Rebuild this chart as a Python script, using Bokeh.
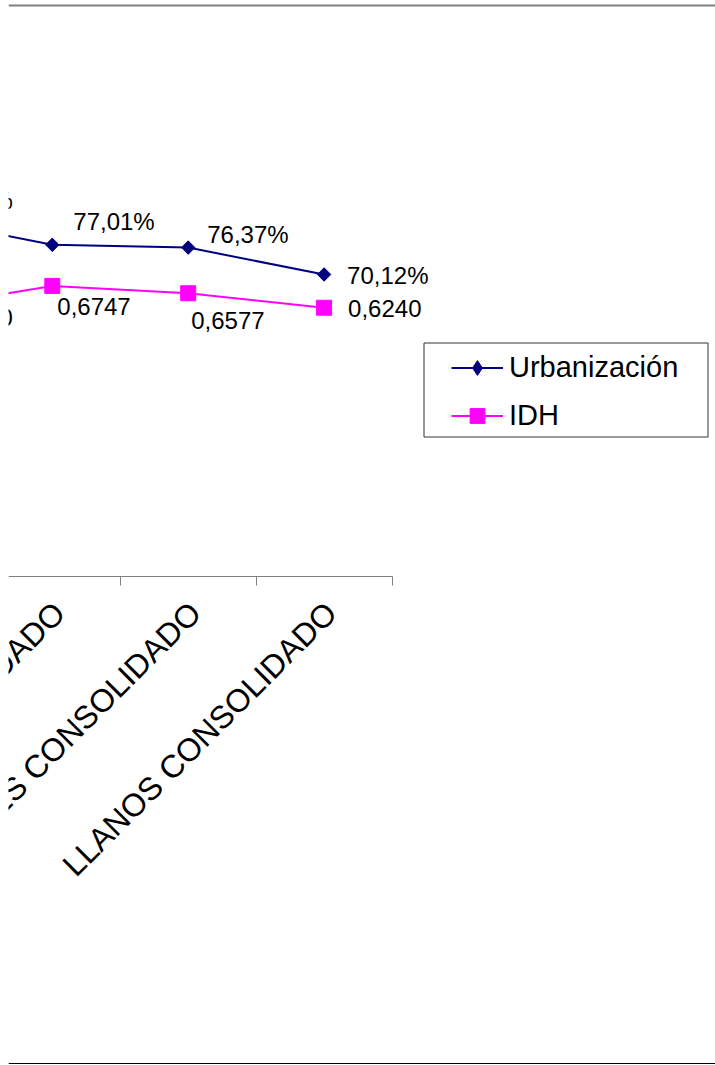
import math
from bokeh.plotting import figure
from bokeh.models import (ColumnDataSource, Range1d, LinearAxis, FixedTicker,
                          Legend, LegendItem, Span, BoxAnnotation)
from bokeh.core.properties import value
from bokeh.embed import file_html
from bokeh.resources import INLINE

# ---------------- data ----------------
categories = ["AMAZONIA CONSOLIDADO", "CARIBE CONSOLIDADO",
              "SANTANDERES CONSOLIDADO", "LLANOS CONSOLIDADO"]
urbanizacion = [0.833, 0.7701, 0.7637, 0.7012]
idh = [0.622, 0.6747, 0.6577, 0.6240]

# label offsets in screen pixels (styling, not data)
URB_DX = [15, 21, 19, 23]
URB_DY = [-17, -23.5, -13.5, 1]
IDH_DX = [23, 5, 3, 24]
IDH_DY = [9, 20.5, 27, 0.5]

# ---------------- geometry ----------------
W, H = 715, 1065
OFF_X = 8          # frame starts here (page px)
CAT_X1 = 51.8      # page x of category index 1
CAT_STEP = 135.9   # px per category
Y0 = 576.0         # page y of value 0
K = 430.7          # px per unit

x_start = 1 + (OFF_X - CAT_X1) / CAT_STEP
x_end = x_start + (W - OFF_X) / CAT_STEP
y_end = Y0 / K
y_start = y_end - H / K


def px_x(page_x):
    return x_start + (page_x - OFF_X) / CAT_STEP


def px_y(page_y):
    return y_end - page_y / K


FONT = "Liberation Sans"
NAVY = "#000080"
MAGENTA = "#FF00FF"

p = figure(width=W, height=H, x_range=Range1d(x_start, x_end),
           y_range=Range1d(y_start, y_end), x_axis_location=None,
           y_axis_location=None, toolbar_location=None, output_backend="svg",
           min_border=0, min_border_left=OFF_X, outline_line_color=None)
p.grid.visible = False
p.background_fill_color = "white"
p.border_fill_color = "white"

xs = list(range(len(categories)))
src = ColumnDataSource(dict(
    x=xs, urb=urbanizacion, idh=idh, cat=categories,
    zero=[0] * len(categories),
    urb_txt=[f"{v * 100:.2f}%".replace(".", ",") for v in urbanizacion],
    idh_txt=[f"{v:.4f}".replace(".", ",") for v in idh],
    udx=URB_DX, udy=URB_DY, idx_=IDH_DX, idy=IDH_DY,
))

# category axis at value 0: boundary ticks only
ax = LinearAxis(fixed_location=0, bounds=(x_start, len(categories) - 0.5))
ax.ticker = FixedTicker(ticks=[], minor_ticks=[i + 0.5 for i in xs])
ax.major_tick_in = 0
ax.major_tick_out = 0
ax.minor_tick_in = 0
ax.minor_tick_out = 9
ax.minor_tick_line_color = "#808080"
ax.axis_line_color = "#808080"
ax.axis_line_width = 1
ax.major_label_text_alpha = 0
p.add_layout(ax, "below")

# category labels, rotated 45 degrees, ending at each category
p.text("x", "zero", text="cat", source=src, angle=math.pi / 4,
       x_offset=7, y_offset=31, text_align="right",
       text_baseline="alphabetic", text_font=value(FONT),
       text_font_size="32px", text_color="black")

# series
l1 = p.line("x", "urb", source=src, line_color=NAVY, line_width=2)
d1 = p.scatter("x", "urb", source=src, marker="diamond", size=13,
               fill_color=NAVY, line_color=NAVY)
s1 = p.scatter("x", "urb", source=src, marker="square", angle=math.pi / 4,
               size=9.5, fill_color=NAVY, line_color=NAVY)
l2 = p.line("x", "idh", source=src, line_color=MAGENTA, line_width=2)
s2 = p.scatter("x", "idh", source=src, marker="square", size=15,
               fill_color=MAGENTA, line_color=MAGENTA)

p.text("x", "urb", text="urb_txt", source=src, x_offset="udx", y_offset="udy",
       text_align="left", text_baseline="middle", text_font=value(FONT),
       text_font_size="24px", text_color="black")
p.text("x", "idh", text="idh_txt", source=src, x_offset="idx_", y_offset="idy",
       text_align="left", text_baseline="middle", text_font=value(FONT),
       text_font_size="24px", text_color="black")

# decorative frame lines
p.add_layout(Span(location=px_y(5), dimension="width", line_color="#808080",
                  line_width=2))
p.add_layout(Span(location=px_y(1063), dimension="width", line_color="black",
                  line_width=1))

# legend
p.add_layout(BoxAnnotation(left=px_x(423.5), right=px_x(707.5),
                           top=px_y(342.5), bottom=px_y(436.5),
                           fill_alpha=0, line_color="#333333", line_alpha=1,
                           line_width=1))
GH = 37
SP = 11
leg_top = 367 - GH / 2
leg_bottom = leg_top + 2 * GH + SP
legend = Legend(items=[LegendItem(label="Urbanización", renderers=[l1, d1]),
                       LegendItem(label="IDH", renderers=[l2, s2])],
                location=(451 - OFF_X, H - leg_bottom),
                padding=0, margin=0, spacing=SP, glyph_width=52,
                glyph_height=GH, label_height=GH, label_standoff=6,
                border_line_color=None, background_fill_alpha=0,
                label_text_font=FONT, label_text_font_size="29px",
                label_text_color="black")
p.add_layout(legend)

open("out.html", "w").write(file_html(p, INLINE))
